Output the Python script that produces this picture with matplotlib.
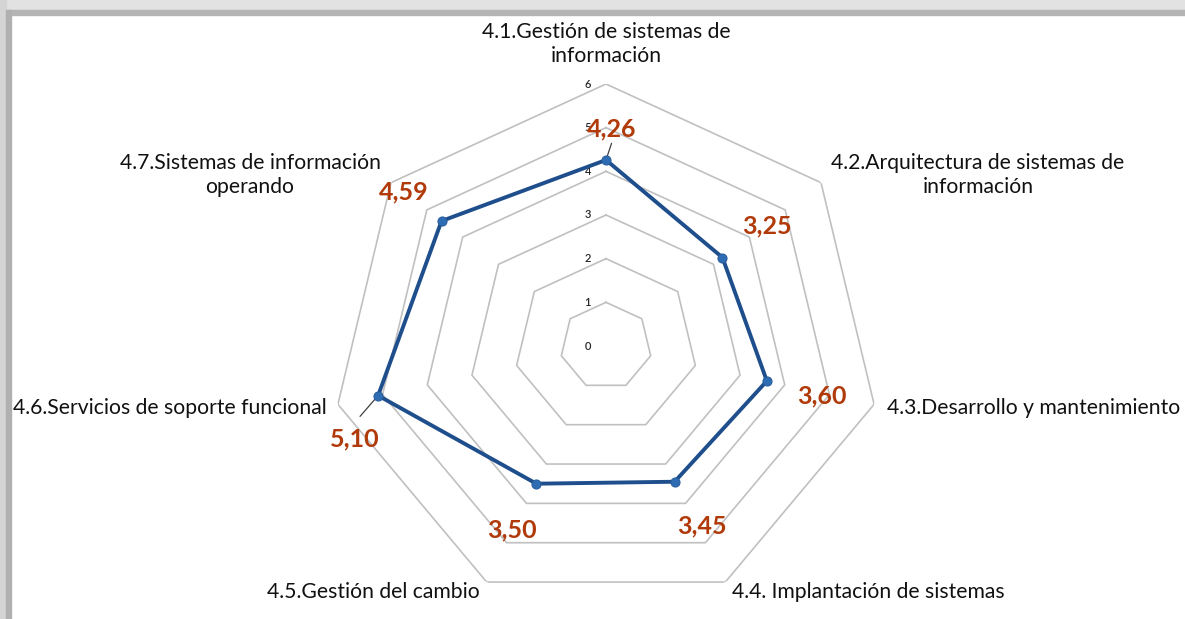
import numpy as np
import matplotlib.pyplot as plt
from matplotlib.patches import Rectangle

categories = ['4.1.Gestión de sistemas de\ninformación',
              '4.2.Arquitectura de sistemas de\ninformación',
              '4.3.Desarrollo y mantenimiento',
              '4.4. Implantación de sistemas',
              '4.5.Gestión del cambio',
              '4.6.Servicios de soporte funcional',
              '4.7.Sistemas de información\noperando']
values = [4.26, 3.25, 3.60, 3.45, 3.50, 5.10, 4.59]
value_labels = ['4,26', '3,25', '3,60', '3,45', '3,50', '5,10', '4,59']
levels = [0, 1, 2, 3, 4, 5, 6]

W, H = 1185, 619
fig = plt.figure(figsize=(W / 100, H / 100), dpi=100)
plt.rcParams['font.family'] = ['Lato', 'DejaVu Sans']

# screenshot frame shadow (top and left)
fig.patches.append(Rectangle((0, 1 - 10 / H), 1, 10 / H, transform=fig.transFigure,
                             color='#e2e2e2', zorder=0))
fig.patches.append(Rectangle((0, 1 - 15 / H), 1, 5 / H, transform=fig.transFigure,
                             color='#b4b4b4', zorder=0))
fig.patches.append(Rectangle((0, 0), 6 / W, 1, transform=fig.transFigure,
                             color='#d4d4d4', zorder=0))
fig.patches.append(Rectangle((6 / W, 0), 5 / W, 1 - 10 / H, transform=fig.transFigure,
                             color='#b0b0b0', zorder=0))

# chart is a bit stretched horizontally
cx, cy, Rx, Ry = 606, 346, 275, 262
ax = fig.add_axes([(cx - Rx) / W, (H - cy - Ry) / H, 2 * Rx / W, 2 * Ry / H], projection='polar')
ax.set_aspect('auto')
ax.set_theta_zero_location('N')
ax.set_theta_direction(-1)
ax.set_ylim(0, 6)
ax.grid(False)
ax.set_xticks([])
ax.set_yticks([])
ax.spines['polar'].set_visible(False)
ax.patch.set_alpha(0)

n = len(categories)
theta = np.arange(n) * 2 * np.pi / n
theta_c = np.append(theta, theta[0])

# heptagon grid
for lv in levels[1:]:
    ax.plot(theta_c, [lv] * (n + 1), color='#c0c0c0', lw=1.2, zorder=1)
for lv in levels:
    ax.annotate(str(lv), (0, lv), xytext=(-13, 0), textcoords='offset points',
                ha='center', va='center', fontsize=8, fontweight='semibold', color='#262626')

vals_c = np.append(values, values[0])
ax.plot(theta_c, vals_c, color='#1f4e8c', lw=2.8, zorder=3)
ax.plot(theta, values, 'o', color='#2e6db4', markersize=6.5, markeredgecolor='#2a5f9e',
        markeredgewidth=0.8, zorder=4)

# value labels (offsets in pixels, image y downwards)
offs = [(6, -31), (44, -32), (55, 15), (27, 44), (-24, 46), (-23, 43), (-38, -29)]
for t, v, lab, (dx, dy) in zip(theta, values, value_labels, offs):
    ax.annotate(lab, (t, v), xytext=(dx * 0.72, -dy * 0.72), textcoords='offset points',
                ha='center', va='center', fontsize=18, fontweight='bold', color='#b03a0a',
                zorder=5)

# leader lines for 4,26 and 5,10
ax.annotate('', (theta[0], values[0]), xytext=(4, 12), textcoords='offset points',
            arrowprops=dict(arrowstyle='-', color='#404040', lw=0.9, shrinkA=0, shrinkB=3))
ax.annotate('', (theta[5], values[5]), xytext=(-13, -15), textcoords='offset points',
            arrowprops=dict(arrowstyle='-', color='#404040', lw=0.9, shrinkA=0, shrinkB=3))

# category labels (centers in pixels)
cat_pos = [(606, 44), (978, 175), (1034, 408), (868, 592), (373, 592), (170, 408), (250, 175)]
for lab, (px, py) in zip(categories, cat_pos):
    fig.text(px / W, 1 - py / H, lab, ha='center', va='center', fontsize=15.2,
             color='#111111', linespacing=1.3)

fig.savefig('out.png', dpi=100, facecolor='white')
